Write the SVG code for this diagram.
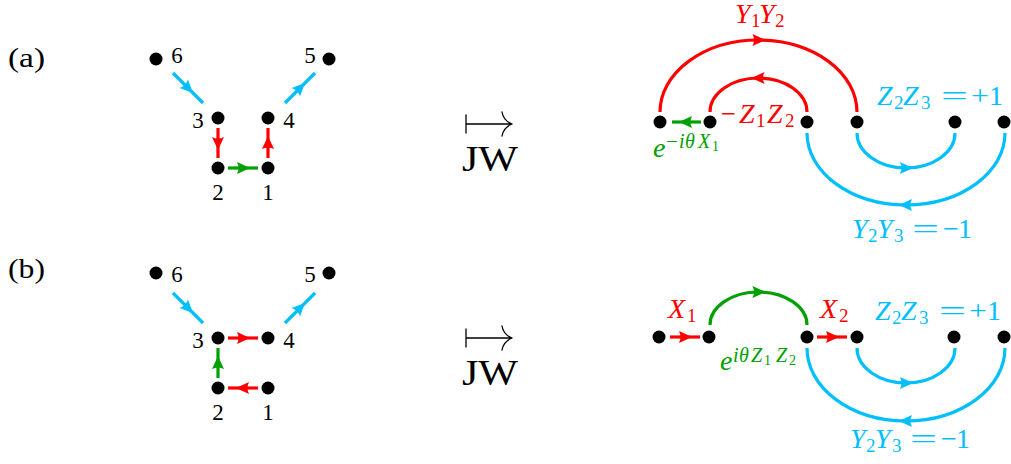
<svg xmlns="http://www.w3.org/2000/svg" width="1011" height="464" viewBox="0 0 1011 464">
<style>
text{font-family:"Liberation Serif","Times New Roman",serif}
.n{fill:#000}
.num{font-size:23px;text-anchor:middle;fill:#000}
.m{font-size:28px;font-style:italic}
.up{font-style:normal}
.s{font-size:19px}
.sl{font-size:20px;font-style:italic}
.ss{font-size:14px;font-style:normal}
.red{fill:#FF0000}
.blue{fill:#00BFFF}
.green{fill:#00A000}
.er{stroke:#FF0000;stroke-width:3.2;fill:none;marker-mid:url(#ar-red)}
.eb{stroke:#00BFFF;stroke-width:3.2;fill:none;marker-mid:url(#ar-blue)}
.eg{stroke:#00A000;stroke-width:3.2;fill:none;marker-mid:url(#ar-green)}
.map{stroke:#000;stroke-width:1.3;fill:none;stroke-linecap:round}
</style>
<defs>
<marker id="ar-red" markerUnits="userSpaceOnUse" markerWidth="30" markerHeight="30" viewBox="-15 -15 30 30" refX="0" refY="0" orient="auto" overflow="visible"><path d="M7,0 L-6,-6 Q-3,0 -6,6 Z" fill="#FF0000"/></marker>
<marker id="ar-blue" markerUnits="userSpaceOnUse" markerWidth="30" markerHeight="30" viewBox="-15 -15 30 30" refX="0" refY="0" orient="auto" overflow="visible"><path d="M7,0 L-6,-6 Q-3,0 -6,6 Z" fill="#00BFFF"/></marker>
<marker id="ar-green" markerUnits="userSpaceOnUse" markerWidth="30" markerHeight="30" viewBox="-15 -15 30 30" refX="0" refY="0" orient="auto" overflow="visible"><path d="M7,0 L-6,-6 Q-3,0 -6,6 Z" fill="#00A000"/></marker>
</defs>

<text x="8" y="67" font-size="28" textLength="37" lengthAdjust="spacingAndGlyphs">(a)</text>
<text x="8" y="278" font-size="28" textLength="37" lengthAdjust="spacingAndGlyphs">(b)</text>

<!-- mapsto symbols -->
<g id="map-a">
<path class="map" d="M466 115 V133 M466 124 H511 M512 124 C507 122 503 118 502 112 M512 124 C507 126 503 130 502 136"/>
<text x="462" y="171" font-size="35" textLength="56" lengthAdjust="spacingAndGlyphs">JW</text>
</g>
<g id="map-b">
<path class="map" d="M466 329 V347 M466 338 H511 M512 338 C507 336 503 332 502 326 M512 338 C507 340 503 344 502 350"/>
<text x="462" y="385" font-size="35" textLength="56" lengthAdjust="spacingAndGlyphs">JW</text>
</g>

<!-- connectors -->
<g id="connectors">
<!-- (a) left -->
<path class="eb" d="M173 73 L188 88 L203 103"/>
<path class="eb" d="M285 103 L300 88 L315 73"/>
<path class="er" d="M218 128 L218 143 L218 158"/>
<path class="er" d="M268 158 L268 143 L268 128"/>
<path class="eg" d="M228 168 L243 168 L258 168"/>
<!-- (b) left -->
<path class="eb" d="M173 293 L188 308 L203 323"/>
<path class="eb" d="M285 323 L300 308 L315 293"/>
<path class="er" d="M228 338 L243 338 L258 338"/>
<path class="er" d="M258 388 L243 388 L228 388"/>
<path class="eg" d="M218 378 L218 363 L218 348"/>
<!-- (a) right -->
<path class="eg" d="M701 122 L686 122 L672 122"/>
<path class="er" d="M660 112 A98.5 72 0 0 1 758.5 40 A98.5 72 0 0 1 857 112"/>
<path class="er" d="M807 112 A48.5 34 0 0 0 758.5 78 A48.5 34 0 0 0 710 112"/>
<path class="eb" d="M857 133 A49 35 0 0 0 906 168 A49 35 0 0 0 955 133"/>
<path class="eb" d="M1005 133 A99 72 0 0 1 906 205 A99 72 0 0 1 807 133"/>
<!-- (b) right -->
<path class="er" d="M670 337 L685 337 L700 337"/>
<path class="er" d="M817 337 L832 337 L847 337"/>
<path class="eg" d="M710 325 A48.5 33 0 0 1 758.5 292 A48.5 33 0 0 1 807 325"/>
<path class="eb" d="M857 348 A49 35 0 0 0 906 383 A49 35 0 0 0 955 348"/>
<path class="eb" d="M1005 348 A99 73 0 0 1 906 421 A99 73 0 0 1 807 348"/>
</g>

<!-- edge labels (a) -->
<g id="labels-a">
<text class="m red"><tspan x="735" y="23">Y</tspan><tspan class="s up" x="751" y="27">1</tspan><tspan x="759" y="23">Y</tspan><tspan class="s up" x="775" y="27">2</tspan></text>
<text class="m red up" x="721" y="123" textLength="15" lengthAdjust="spacingAndGlyphs">−</text>
<text class="m red"><tspan x="739" y="123">Z</tspan><tspan class="s up" x="756" y="127">1</tspan><tspan x="767" y="123">Z</tspan><tspan class="s up" x="785" y="127">2</tspan></text>
<text class="m green"><tspan x="653" y="157">e</tspan></text>
<text class="s green up" x="666" y="148" textLength="12" lengthAdjust="spacingAndGlyphs">−</text>
<text class="green"><tspan class="sl" x="679" y="148">i</tspan><tspan class="sl" x="685" y="148">θ</tspan><tspan class="sl" x="698" y="148">X</tspan><tspan class="ss" x="712" y="151">1</tspan></text>
<text class="m blue"><tspan x="877" y="105">Z</tspan><tspan class="s up" x="894" y="109">2</tspan><tspan x="903" y="105">Z</tspan><tspan class="s up" x="921" y="109">3</tspan></text>
<text class="m blue up" x="941" y="105" textLength="27" lengthAdjust="spacingAndGlyphs">=</text>
<text class="m blue up" x="971" y="105" textLength="18" lengthAdjust="spacingAndGlyphs">+</text>
<text class="m blue up" x="989" y="105">1</text>
<text class="m blue"><tspan x="852" y="238">Y</tspan><tspan class="s up" x="868" y="242">2</tspan><tspan x="877" y="238">Y</tspan><tspan class="s up" x="894" y="242">3</tspan></text>
<text class="m blue up" x="912" y="238" textLength="27" lengthAdjust="spacingAndGlyphs">=</text>
<text class="m blue up" x="943" y="238" textLength="16" lengthAdjust="spacingAndGlyphs">−</text>
<text class="m blue up" x="958" y="238">1</text>
</g>

<!-- edge labels (b) -->
<g id="labels-b">
<text class="m red"><tspan x="668" y="318">X</tspan><tspan class="s up" x="687" y="322">1</tspan></text>
<text class="m red"><tspan x="820" y="318">X</tspan><tspan class="s up" x="839" y="322">2</tspan></text>
<text class="m green"><tspan x="720" y="370">e</tspan></text>
<text class="green"><tspan class="sl" x="733" y="362">i</tspan><tspan class="sl" x="739" y="362">θ</tspan><tspan class="sl" x="751" y="362">Z</tspan><tspan class="ss" x="764" y="365">1</tspan><tspan class="sl" x="776" y="362">Z</tspan><tspan class="ss" x="789" y="365">2</tspan></text>
<text class="m blue"><tspan x="875" y="320">Z</tspan><tspan class="s up" x="892" y="324">2</tspan><tspan x="901" y="320">Z</tspan><tspan class="s up" x="919" y="324">3</tspan></text>
<text class="m blue up" x="939" y="320" textLength="27" lengthAdjust="spacingAndGlyphs">=</text>
<text class="m blue up" x="969" y="320" textLength="18" lengthAdjust="spacingAndGlyphs">+</text>
<text class="m blue up" x="987" y="320">1</text>
<text class="m blue"><tspan x="850" y="448">Y</tspan><tspan class="s up" x="866" y="452">2</tspan><tspan x="875" y="448">Y</tspan><tspan class="s up" x="892" y="452">3</tspan></text>
<text class="m blue up" x="910" y="448" textLength="27" lengthAdjust="spacingAndGlyphs">=</text>
<text class="m blue up" x="941" y="448" textLength="16" lengthAdjust="spacingAndGlyphs">−</text>
<text class="m blue up" x="956" y="448">1</text>
</g>

<!-- nodes (a) left -->
<g id="a-n6"><circle class="n" cx="156" cy="59" r="6.5"/><text class="num" x="177" y="63">6</text></g>
<g id="a-n5"><circle class="n" cx="329" cy="59" r="6.5"/><text class="num" x="310" y="63">5</text></g>
<g id="a-n3"><circle class="n" cx="218" cy="118" r="6.5"/><text class="num" x="198" y="128">3</text></g>
<g id="a-n4"><circle class="n" cx="268" cy="118" r="6.5"/><text class="num" x="289" y="128">4</text></g>
<g id="a-n2"><circle class="n" cx="218" cy="168" r="6.5"/><text class="num" x="218" y="200">2</text></g>
<g id="a-n1"><circle class="n" cx="268" cy="168" r="6.5"/><text class="num" x="268" y="200">1</text></g>
<!-- nodes (b) left -->
<g id="b-n6"><circle class="n" cx="156" cy="273" r="6.5"/><text class="num" x="177" y="282">6</text></g>
<g id="b-n5"><circle class="n" cx="329" cy="273" r="6.5"/><text class="num" x="310" y="282">5</text></g>
<g id="b-n3"><circle class="n" cx="218" cy="338" r="6.5"/><text class="num" x="198" y="348">3</text></g>
<g id="b-n4"><circle class="n" cx="268" cy="338" r="6.5"/><text class="num" x="289" y="348">4</text></g>
<g id="b-n2"><circle class="n" cx="218" cy="388" r="6.5"/><text class="num" x="218" y="420">2</text></g>
<g id="b-n1"><circle class="n" cx="268" cy="388" r="6.5"/><text class="num" x="268" y="420">1</text></g>
<!-- chain (a) -->
<g id="a-c1"><circle class="n" cx="660" cy="122" r="6.5"/></g>
<g id="a-c2"><circle class="n" cx="710" cy="122" r="6.5"/></g>
<g id="a-c3"><circle class="n" cx="807" cy="122" r="6.5"/></g>
<g id="a-c4"><circle class="n" cx="857" cy="122" r="6.5"/></g>
<g id="a-c5"><circle class="n" cx="955" cy="122" r="6.5"/></g>
<g id="a-c6"><circle class="n" cx="1004" cy="122" r="6.5"/></g>
<!-- chain (b) -->
<g id="b-c1"><circle class="n" cx="659" cy="337" r="6.5"/></g>
<g id="b-c2"><circle class="n" cx="709" cy="337" r="6.5"/></g>
<g id="b-c3"><circle class="n" cx="807" cy="337" r="6.5"/></g>
<g id="b-c4"><circle class="n" cx="857" cy="337" r="6.5"/></g>
<g id="b-c5"><circle class="n" cx="954" cy="337" r="6.5"/></g>
<g id="b-c6"><circle class="n" cx="1004" cy="337" r="6.5"/></g>
</svg>
